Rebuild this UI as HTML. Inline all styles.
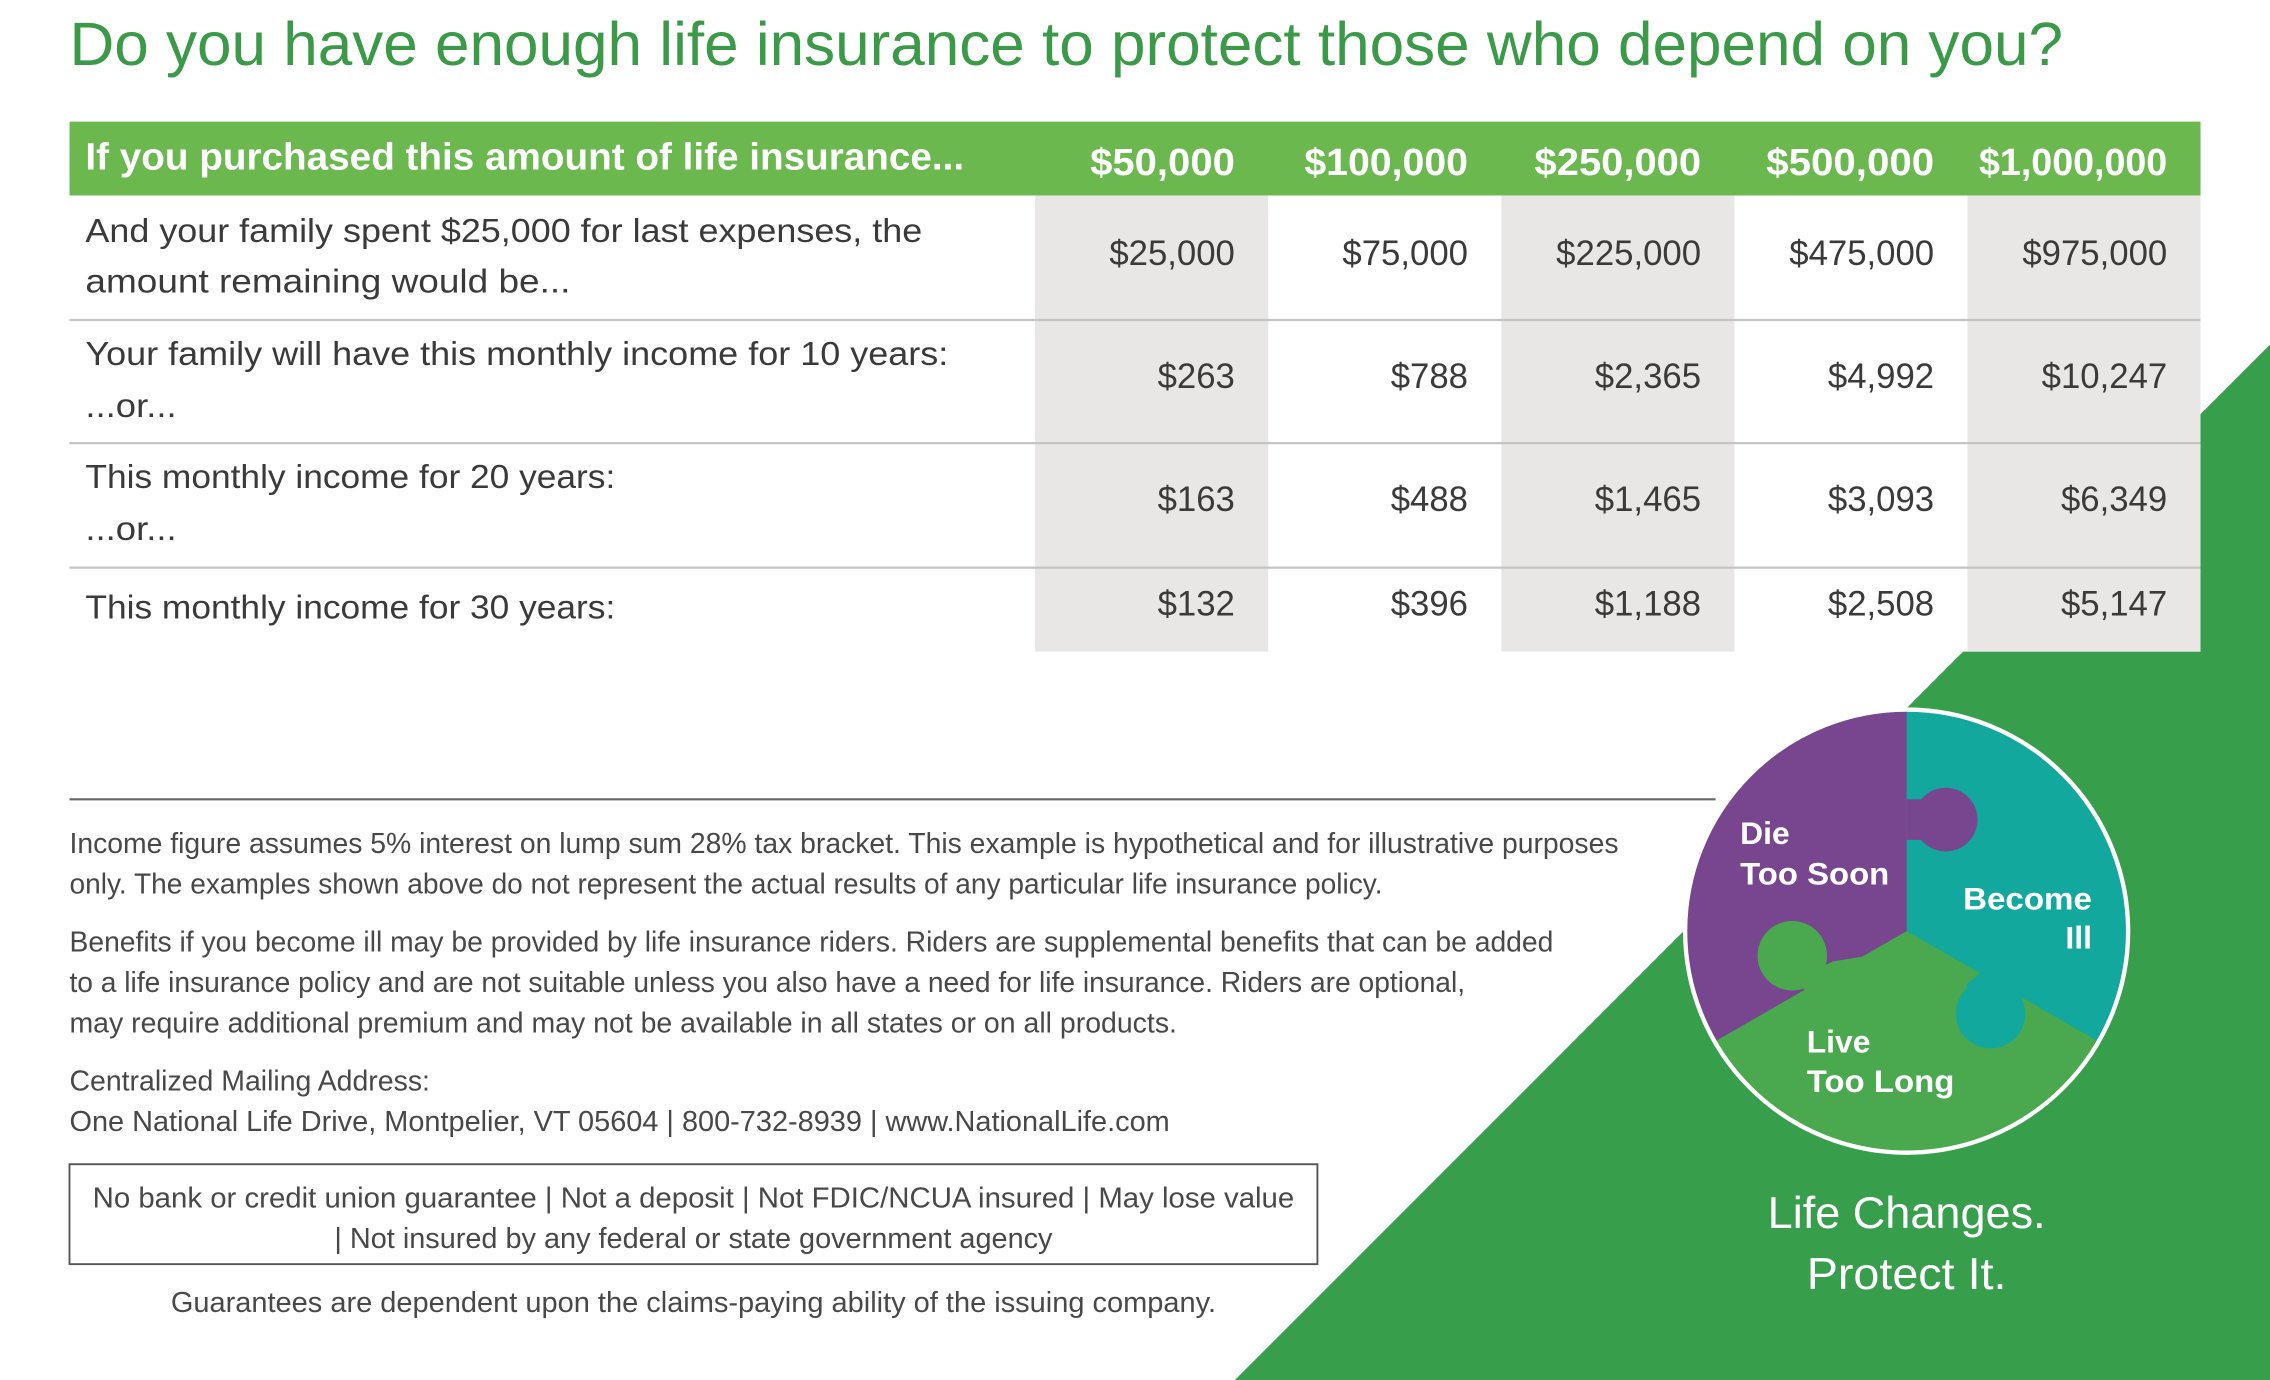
<!DOCTYPE html>
<html><head><meta charset="utf-8"><style>
html,body{margin:0;padding:0;background:#fff;}
svg{display:block;}
text{font-family:"Liberation Sans",sans-serif;}
</style></head><body>
<svg width="2270" height="1380" viewBox="0 0 1568 953" preserveAspectRatio="none" xmlns="http://www.w3.org/2000/svg">
<rect width="1568" height="953" fill="#fff"/>
<!-- green triangle -->
<polygon points="853,953 1568,238 1568,953" fill="#379e4c"/>
<!-- title -->
<text x="48" y="45" font-size="42" fill="#3a9a48" textLength="1377" lengthAdjust="spacingAndGlyphs">Do you have enough life insurance to protect those who depend on you?</text>
<!-- table -->
<rect x="48" y="84" width="1472" height="51" fill="#6ab84e"/>
<rect x="48" y="135" width="1472" height="315" fill="#fff"/>
<rect x="715" y="135" width="161" height="315" fill="#e8e7e6"/>
<rect x="1037" y="135" width="161" height="315" fill="#e8e7e6"/>
<rect x="1359" y="135" width="161" height="315" fill="#e8e7e6"/>
<g stroke="#c4c4c4" stroke-width="1.5">
<line x1="48" y1="221" x2="1520" y2="221"/>
<line x1="48" y1="306" x2="1520" y2="306"/>
<line x1="48" y1="392" x2="1520" y2="392"/>
</g>
<g fill="#fff" font-weight="bold" font-size="26">
<text x="59" y="117" textLength="607" lengthAdjust="spacingAndGlyphs">If you purchased this amount of life insurance...</text>
<g text-anchor="end">
<text x="853" y="121" textLength="100" lengthAdjust="spacingAndGlyphs">$50,000</text>
<text x="1014" y="121" textLength="113" lengthAdjust="spacingAndGlyphs">$100,000</text>
<text x="1175" y="121" textLength="115" lengthAdjust="spacingAndGlyphs">$250,000</text>
<text x="1336" y="121" textLength="116" lengthAdjust="spacingAndGlyphs">$500,000</text>
<text x="1497" y="121" textLength="130" lengthAdjust="spacingAndGlyphs">$1,000,000</text>
</g></g>
<g fill="#3a3a3a" font-size="23">
<text x="59" y="167" textLength="578" lengthAdjust="spacingAndGlyphs">And your family spent $25,000 for last expenses, the</text>
<text x="59" y="202" textLength="335" lengthAdjust="spacingAndGlyphs">amount remaining would be...</text>
<text x="59" y="252" textLength="596" lengthAdjust="spacingAndGlyphs">Your family will have this monthly income for 10 years:</text>
<text x="59" y="288" textLength="63" lengthAdjust="spacingAndGlyphs">...or...</text>
<text x="59" y="337" textLength="366" lengthAdjust="spacingAndGlyphs">This monthly income for 20 years:</text>
<text x="59" y="373" textLength="63" lengthAdjust="spacingAndGlyphs">...or...</text>
<text x="59" y="427" textLength="366" lengthAdjust="spacingAndGlyphs">This monthly income for 30 years:</text>
<g text-anchor="end" font-size="24">
<text x="853" y="183">$25,000</text><text x="1014" y="183">$75,000</text><text x="1175" y="183">$225,000</text><text x="1336" y="183">$475,000</text><text x="1497" y="183">$975,000</text>
<text x="853" y="268">$263</text><text x="1014" y="268">$788</text><text x="1175" y="268">$2,365</text><text x="1336" y="268">$4,992</text><text x="1497" y="268">$10,247</text>
<text x="853" y="353">$163</text><text x="1014" y="353">$488</text><text x="1175" y="353">$1,465</text><text x="1336" y="353">$3,093</text><text x="1497" y="353">$6,349</text>
<text x="853" y="425">$132</text><text x="1014" y="425">$396</text><text x="1175" y="425">$1,188</text><text x="1336" y="425">$2,508</text><text x="1497" y="425">$5,147</text>
</g></g>
<!-- lower text -->
<line x1="48" y1="552" x2="1185" y2="552" stroke="#666" stroke-width="1.5"/>
<g fill="#484848" font-size="20">
<text x="48" y="589" textLength="1070" lengthAdjust="spacingAndGlyphs">Income figure assumes 5% interest on lump sum 28% tax bracket. This example is hypothetical and for illustrative purposes</text>
<text x="48" y="617" textLength="907" lengthAdjust="spacingAndGlyphs">only. The examples shown above do not represent the actual results of any particular life insurance policy.</text>
<text x="48" y="657" textLength="1025" lengthAdjust="spacingAndGlyphs">Benefits if you become ill may be provided by life insurance riders.  Riders are supplemental benefits that can be added</text>
<text x="48" y="685" textLength="964" lengthAdjust="spacingAndGlyphs">to a life insurance policy and are not suitable unless you also have a need for life insurance.  Riders are optional,</text>
<text x="48" y="713" textLength="765" lengthAdjust="spacingAndGlyphs">may require additional premium and may not be available in all states or on all products.</text>
<text x="48" y="753" textLength="249" lengthAdjust="spacingAndGlyphs">Centralized Mailing Address:</text>
<text x="48" y="781" textLength="760" lengthAdjust="spacingAndGlyphs">One National Life Drive, Montpelier, VT 05604  |  800-732-8939  |  www.NationalLife.com</text>
<text x="64" y="834" textLength="830" lengthAdjust="spacingAndGlyphs">No bank or credit union guarantee | Not a deposit | Not FDIC/NCUA insured | May lose value</text>
<text x="231" y="862" textLength="496" lengthAdjust="spacingAndGlyphs">| Not insured by any federal or state government agency</text>
<text x="118" y="906" textLength="722" lengthAdjust="spacingAndGlyphs">Guarantees are dependent upon the claims-paying ability of the issuing company.</text>
</g>
<rect x="48" y="804" width="862" height="69" fill="none" stroke="#555" stroke-width="1.3"/>
<!-- puzzle -->
<g>
<path d="M1317,643 L1317,490 A153,153 0 0 1 1449,719 Z" fill="#12a89d"/>
<path d="M1317,643 L1449,719 A153,153 0 0 1 1185,719 Z" fill="#4aa94f"/>
<path d="M1317,643 L1185,719 A153,153 0 0 1 1317,490 Z" fill="#78468e"/>
<circle cx="1344" cy="566" r="22" fill="#78468e"/>
<rect x="1317" y="552" width="14" height="28" fill="#78468e"/>
<circle cx="1238" cy="660" r="24" fill="#4aa94f"/>
<polygon points="1250,672 1266,664 1290,660 1274,690 1244,690" fill="#4aa94f"/>
<circle cx="1375" cy="700" r="24" fill="#12a89d"/>
<polygon points="1358,680 1368,672 1382,677 1395,692 1380,720" fill="#12a89d"/>
<circle cx="1317" cy="643" r="153" fill="none" stroke="#fff" stroke-width="3"/>
</g>
<g fill="#fff" font-weight="bold" font-size="22">
<text x="1202" y="583">Die</text>
<text x="1202" y="611" textLength="103" lengthAdjust="spacingAndGlyphs">Too Soon</text>
<text x="1445" y="628" text-anchor="end" textLength="89" lengthAdjust="spacingAndGlyphs">Become</text>
<text x="1445" y="655" text-anchor="end">Ill</text>
<text x="1248" y="727">Live</text>
<text x="1248" y="754" textLength="102" lengthAdjust="spacingAndGlyphs">Too Long</text>
</g>
<g fill="#fff" font-size="31" text-anchor="middle">
<text x="1317" y="848" textLength="192" lengthAdjust="spacingAndGlyphs">Life Changes.</text>
<text x="1317" y="890" textLength="138" lengthAdjust="spacingAndGlyphs">Protect It.</text>
</g>
</svg>
</body></html>
